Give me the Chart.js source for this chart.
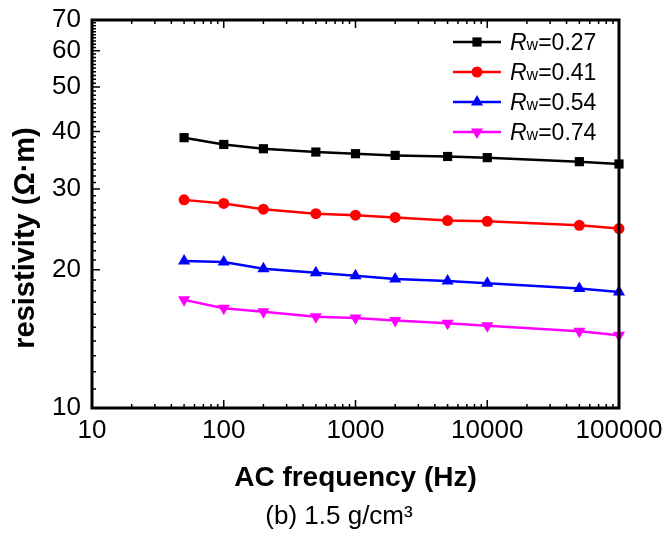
<!DOCTYPE html>
<html lang="en">
<head>
<meta charset="UTF-8" />
<title>Resistivity vs AC frequency</title>
<script src="https://cdn.jsdelivr.net/npm/chart.js"></script>
<style>
  body { margin: 0; background: #fff; }
  #wrap { width: 665px; height: 533px; }
</style>
</head>
<body>
<div id="wrap"><canvas id="chart"></canvas></div>
<script>
  const frequencies = [50, 100, 200, 500, 1000, 2000, 5000, 10000, 50000, 100000];
  const rw027 = [38.8, 37.5, 36.7, 36.1, 35.8, 35.5, 35.3, 35.1, 34.4, 34.0];
  const rw041 = [28.4, 27.9, 27.1, 26.5, 26.3, 26.0, 25.6, 25.5, 25.0, 24.6];
  const rw054 = [20.9, 20.8, 20.1, 19.7, 19.4, 19.1, 18.9, 18.7, 18.2, 17.9];
  const rw074 = [17.2, 16.5, 16.2, 15.8, 15.7, 15.5, 15.3, 15.1, 14.7, 14.4];
  const rwLabels = ['0.27', '0.41', '0.54', '0.74'];
  const xTickValues = [10, 100, 1000, 10000, 100000];
  const yTickValues = [10, 20, 30, 40, 50, 60, 70];
  const yTitle = 'resistivity (Ω·m)';
  const subTitle = '(b) 1.5 g/cm³';

  const FONT = "'Liberation Sans', Arial, sans-serif";

  function series(values, label, color, style, radius, rotation) {
    return {
      label: label,
      data: frequencies.map((f, i) => ({ x: f, y: values[i] })),
      borderColor: color,
      backgroundColor: color,
      borderWidth: 2.5,
      pointStyle: style,
      pointRadius: radius,
      pointHoverRadius: radius,
      pointRotation: rotation || 0,
      pointBorderWidth: 0,
      clip: false
    };
  }

  // inward ticks on bottom/top/left plus the box frame
  const frameTicks = {
    id: 'frameTicks',
    afterDraw(chart) {
      const { ctx, chartArea: a, scales: { x, y } } = chart;
      ctx.save();
      ctx.strokeStyle = '#000';
      ctx.lineWidth = 1.5;
      ctx.beginPath();
      for (let d = 10; d < 100000; d *= 10) {
        for (let k = 1; k <= 10; k++) {
          const px = x.getPixelForValue(d * k);
          const len = (k === 1 || k === 10) ? 8 : 4;
          ctx.moveTo(px, a.bottom); ctx.lineTo(px, a.bottom - len);
          ctx.moveTo(px, a.top); ctx.lineTo(px, a.top + len);
        }
      }
      for (let v = 10; v <= 70; v++) {
        const py = y.getPixelForValue(v);
        const len = v % 10 === 0 ? 8 : 4;
        ctx.moveTo(a.left, py); ctx.lineTo(a.left + len, py);
      }
      ctx.stroke();
      ctx.lineWidth = 3;
      ctx.strokeRect(a.left, a.top, a.right - a.left, a.bottom - a.top);
      ctx.restore();
    }
  };

  // legend with italic R and small w, y title and caption under the chart
  const extraText = {
    id: 'extraText',
    afterDraw(chart) {
      const ctx = chart.ctx;
      ctx.save();
      chart.data.datasets.forEach((ds, i) => {
        const yRow = 42 + i * 30;
        ctx.strokeStyle = ds.borderColor;
        ctx.fillStyle = ds.backgroundColor;
        ctx.lineWidth = 2.5;
        ctx.beginPath();
        ctx.moveTo(453, yRow); ctx.lineTo(501, yRow);
        ctx.stroke();
        Chart.helpers.drawPoint(ctx, {
          pointStyle: ds.pointStyle, rotation: ds.pointRotation,
          radius: ds.pointRadius, borderWidth: 0
        }, 477, yRow);
        ctx.fillStyle = '#000';
        ctx.textBaseline = 'alphabetic';
        ctx.textAlign = 'left';
        const base = yRow + 8;
        ctx.font = 'italic 23px ' + FONT;
        ctx.fillText('R', 510, base);
        let xt = 510 + ctx.measureText('R').width;
        ctx.font = '16px ' + FONT;
        ctx.fillText('w', xt, base);
        xt += ctx.measureText('w').width;
        ctx.font = '23px ' + FONT;
        ctx.fillText('=' + rwLabels[i], xt, base);
      });

      ctx.fillStyle = '#000';
      ctx.textAlign = 'center';
      ctx.font = '26px ' + FONT;
      ctx.textBaseline = 'alphabetic';
      ctx.fillText(subTitle, 339, 524);

      ctx.translate(26, 238);
      ctx.rotate(-Math.PI / 2);
      ctx.font = 'bold 29px ' + FONT;
      ctx.textBaseline = 'middle';
      ctx.fillText(yTitle, 0, 0);
      ctx.restore();
    }
  };

  new Chart(document.getElementById('chart'), {
    type: 'line',
    data: {
      datasets: [
        series(rw027, 'Rw=' + rwLabels[0], '#000000', 'rect', 6.5),
        series(rw041, 'Rw=' + rwLabels[1], '#ff0000', 'circle', 5.5),
        series(rw054, 'Rw=' + rwLabels[2], '#0000ff', 'triangle', 7),
        series(rw074, 'Rw=' + rwLabels[3], '#ff00ff', 'triangle', 7, 180)
      ]
    },
    options: {
      responsive: true,
      maintainAspectRatio: false,
      animation: false,
      layout: { padding: { left: 0, right: 46, top: 20, bottom: 33 } },
      plugins: {
        legend: { display: false },
        tooltip: { enabled: false }
      },
      scales: {
        x: {
          type: 'logarithmic',
          min: 10,
          max: 100000,
          afterBuildTicks: s => { s.ticks = xTickValues.map(v => ({ value: v })); },
          afterFit: s => { s.height = 92; s.paddingLeft = 0; s.paddingRight = 0; },
          grid: { display: false, drawTicks: false },
          border: { display: false },
          ticks: {
            color: '#000',
            autoSkip: false,
            maxRotation: 0,
            padding: 7,
            font: { family: FONT, size: 26 },
            callback: v => String(v)
          },
          title: {
            display: true,
            text: 'AC frequency (Hz)',
            color: '#000',
            font: { family: FONT, size: 28, weight: 'bold' },
            padding: { top: 0, bottom: 5 }
          }
        },
        y: {
          type: 'logarithmic',
          min: 10,
          max: 70,
          afterBuildTicks: s => { s.ticks = yTickValues.map(v => ({ value: v })); },
          afterFit: s => { s.width = 92; s.paddingTop = 0; s.paddingBottom = 0; },
          grid: { display: false, drawTicks: false },
          border: { display: false },
          ticks: {
            color: '#000',
            autoSkip: false,
            padding: 11,
            font: { family: FONT, size: 26 },
            callback: v => String(v)
          }
        }
      }
    },
    plugins: [frameTicks, extraText]
  });
</script>
</body>
</html>
